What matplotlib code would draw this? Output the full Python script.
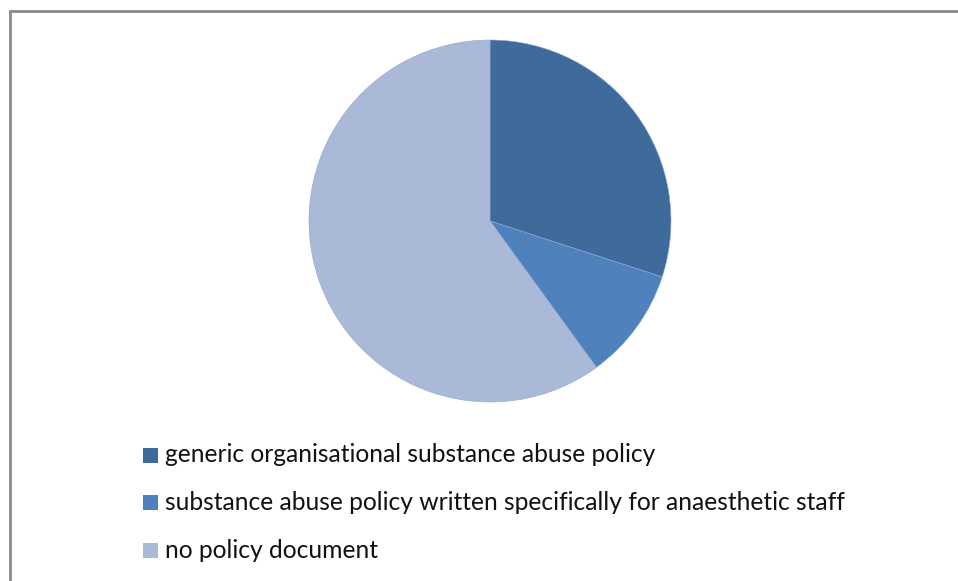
import matplotlib
matplotlib.use("Agg")
import matplotlib.pyplot as plt
from matplotlib.patches import Rectangle

# data (percent of respondents)
labels = ["generic organisational substance abuse policy",
          "substance abuse policy written specifically for anaesthetic staff",
          "no policy document"]
shares = [30, 10, 60]
colors = ["#3F6A9C", "#4F81BD", "#AAB9D7"]

W, H = 958, 581
fig = plt.figure(figsize=(W / 100, H / 100), dpi=100)
fig.patch.set_facecolor("white")

# outer chart border (cropped on right and bottom like the original)
fig.patches.append(Rectangle((9.5 / W, -0.1), 1.2, (H - 10.5) / H + 0.1,
                             transform=fig.transFigure, fill=False,
                             edgecolor="#8A8A8A", lw=2))

cx, cy, r = 490, 221, 181
ax = fig.add_axes([(cx - r) / W, (H - cy - r) / H, 2 * r / W, 2 * r / H])
ax.pie(shares, colors=colors, startangle=90, counterclock=False,
       wedgeprops=dict(edgecolor="#8FA8CF", linewidth=0.4))
ax.set_xlim(-1, 1)
ax.set_ylim(-1, 1)
ax.set_aspect("equal")
ax.axis("off")

# legend drawn as rows of square + text
rows_y = [455, 502, 550]
for lab, col, yy in zip(labels, colors, rows_y):
    fig.patches.append(Rectangle((143 / W, (H - yy - 8) / H), 15 / W, 15 / H,
                                 transform=fig.transFigure, facecolor=col,
                                 edgecolor="none"))
    fig.text(165 / W, (H - yy) / H, lab, fontsize=17.7, family="Lato",
             color="#111111", va="center", ha="left")

fig.savefig("out.png", dpi=100)
